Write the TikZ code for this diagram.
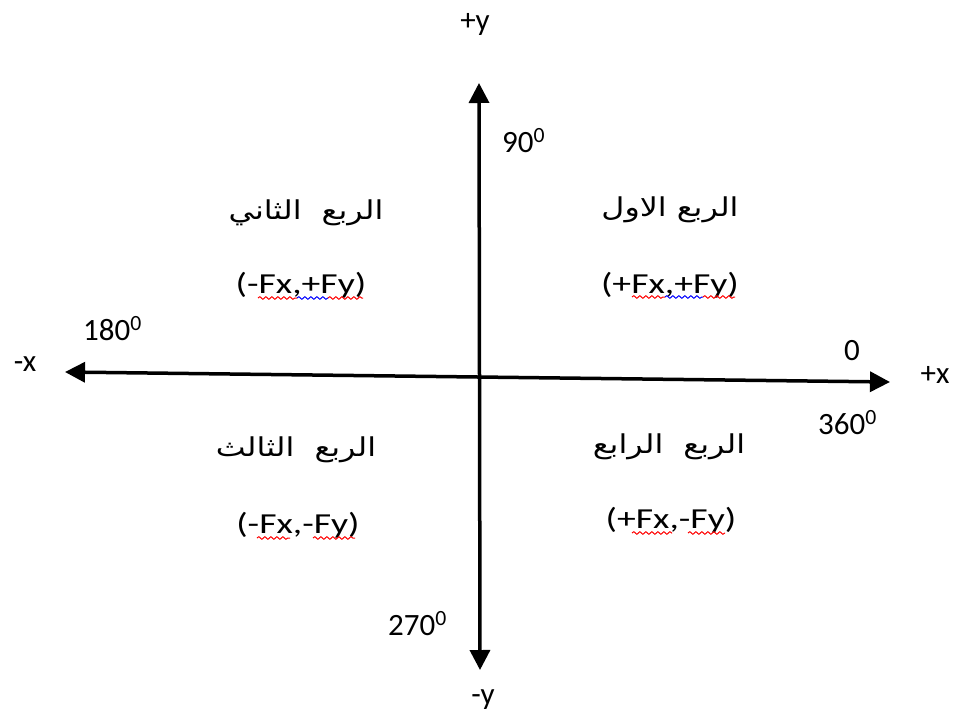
\documentclass[tikz,border=0pt]{standalone}
\usepackage{fontspec}
\setmainfont{Carlito}
\newfontfamily\arabicfont[Script=Arabic]{DejaVu Sans}
\TeXXeTstate=1
\usetikzlibrary{arrows.meta,decorations.pathmorphing}
\newcommand\wx[1]{\scalebox{1.3}[1]{#1}}
\newcommand\wa[1]{\scalebox{1.22}[1]{\beginR #1\endR}}
\tikzset{
  axis/.style={line width=3.5pt,{Triangle[length=20pt,width=20pt]}-{Triangle[length=20pt,width=20pt]}},
  lbl/.style={inner sep=0pt,font=\fontsize{31}{36}\selectfont},
  ftxt/.style={inner sep=0pt,font=\fontsize{29}{34}\selectfont},
  artxt/.style={inner sep=0pt,font=\arabicfont\fontsize{26}{32}\selectfont},
  wavered/.style={draw=red,line width=1pt,decorate,decoration={snake,amplitude=1.3pt,segment length=6pt}},
  waveblue/.style={draw=blue,line width=1pt,decorate,decoration={snake,amplitude=1.3pt,segment length=6pt}}
}
\begin{document}
\begin{tikzpicture}[x=1pt,y=-1pt]
\useasboundingbox[fill=white] (0,0) rectangle (954,717);
\coordinate (xl) at (65,372);
\coordinate (xr) at (890,382);
\coordinate (yt) at (479,83);
\coordinate (yb) at (480,670);
\draw[axis] (xl) -- (xr);
\draw[axis] (yb) -- (yt);
% axis labels
\node[lbl] (py) at (475,24) {+y};
\node[lbl] (my) at (483,700) {-y};
\node[lbl] (mx) at (25,364) {-x};
\node[lbl] (px) at (935,375) {+x};
\node[lbl,anchor=base west] (a90) at (502,152) {90\textsuperscript{0}};
\node[lbl,anchor=base west] (a180) at (83,340) {180\textsuperscript{0}};
\node[lbl,anchor=base west] (a270) at (388,635) {270\textsuperscript{0}};
\node[lbl] (a0) at (852,351) {0};
\node[lbl,anchor=base west] (a360) at (818,434) {360\textsuperscript{0}};
% quadrants
\node[artxt] (q1a) at (670,210) {\wa{الربع الاول}};
\node[artxt] (q2a) at (306,213) {\wa{الربع\ \ الثاني}};
\node[artxt] (q3a) at (296,450) {\wa{الربع\ \ الثالث}};
\node[artxt] (q4a) at (669,447) {\wa{الربع\ \ الرابع}};
\node[ftxt] (q1f) at (670,285) {\wx{(+Fx,+Fy)}};
\node[ftxt] (q2f) at (301,285) {\wx{(-Fx,+Fy)}};
\node[ftxt] (q3f) at (298,525) {\wx{(-Fx,-Fy)}};
\node[ftxt] (q4f) at (671,520) {\wx{(+Fx,-Fy)}};
% spell-check squiggles
\draw[wavered] (632,297) -- (665,297);
\draw[waveblue] (665,297) -- (703,297);
\draw[wavered] (703,297) -- (735,297);
\draw[wavered] (258,298) -- (297,298);
\draw[waveblue] (297,298) -- (328,298);
\draw[wavered] (328,298) -- (363,298);
\draw[wavered] (257,538) -- (290,538);
\draw[wavered] (313,538) -- (355,538);
\draw[wavered] (632,533) -- (672,533);
\draw[wavered] (688,533) -- (725,533);
\end{tikzpicture}
\end{document}
